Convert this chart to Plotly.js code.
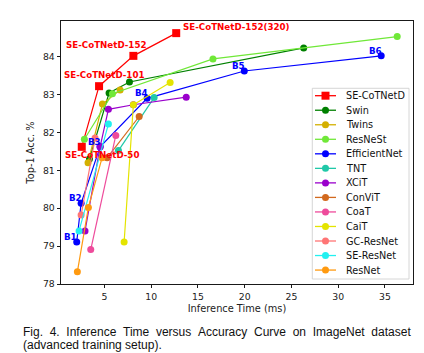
<!DOCTYPE html>
<html>
<head>
<meta charset="utf-8">
<script src="https://cdn.plot.ly/plotly-3.0.1.min.js"></script>
<style>html,body{margin:0;padding:0;background:#fff;}#chart{width:424px;height:353px;}</style>
</head>
<body>
<div id="chart"></div>
<script>
// ---- data (inference time in ms, top-1 accuracy in %) ----
const seriesNames = ['SE-CoTNetD','Swin','Twins','ResNeSt','EfficientNet','TNT','XCiT','ConViT','CoaT','CaiT','GC-ResNet','SE-ResNet','ResNet'];

const seCoTNetD_t = [2.58, 4.43, 8.10, 12.68];
const seCoTNetD_acc = [81.62, 83.22, 84.02, 84.62];
const seCoTNetD_labels = ['SE-CoTNetD-50','SE-CoTNetD-101','SE-CoTNetD-152','SE-CoTNetD-152(320)'];

const swin_t = [3.40, 5.50, 7.68, 26.31];
const swin_acc = [81.30, 83.04, 83.33, 84.23];

const twins_t = [3.25, 4.79, 6.68];
const twins_acc = [81.20, 82.75, 83.12];

const resnest_t = [2.86, 5.86, 16.61, 36.31];
const resnest_acc = [81.82, 83.02, 83.94, 84.53];

const effnet_t = [2.04, 2.51, 4.54, 9.57, 19.96, 34.60];
const effnet_acc = [79.11, 80.13, 81.62, 82.90, 83.62, 84.02];
const effnet_labels = ['B1','B2','B3','B4','B5','B6'];

const tnt_t = [6.50, 10.32];
const tnt_acc = [81.52, 82.92];

const xcit_t = [2.93, 4.54, 5.43, 8.10, 13.75];
const xcit_acc = [79.40, 81.62, 82.61, 82.73, 82.93];

const convit_t = [5.29, 8.72];
const convit_acc = [81.33, 82.42];

const coat_t = [3.54, 6.22];
const coat_acc = [78.91, 81.92];

const cait_t = [7.11, 8.10, 12.03];
const cait_acc = [79.11, 82.73, 83.32];

const gcresnet_t = [2.51, 4.00];
const gcresnet_acc = [79.82, 81.85];

const seresnet_t = [2.29, 5.43];
const seresnet_acc = [79.40, 82.22];

const resnet_t = [2.11, 3.29, 4.75];
const resnet_acc = [78.32, 80.02, 81.33];

const xTicks = [5, 10, 15, 20, 25, 30, 35];
const yTicks = [78, 79, 80, 81, 82, 83, 84];

// ---- styles ----
const colors = ['#ff0000','#008000','#d4b000','#70e838','#0000ff','#20c8a8','#9a00cc','#d2691e','#ee4b9b','#e4e400','#ff7575','#22f0f0','#ff9a10'];
const symbols = ['square','circle','circle','circle','circle','circle','circle','circle','circle','circle','circle','circle','circle'];

const xs = [seCoTNetD_t, swin_t, twins_t, resnest_t, effnet_t, tnt_t, xcit_t, convit_t, coat_t, cait_t, gcresnet_t, seresnet_t, resnet_t];
const ys = [seCoTNetD_acc, swin_acc, twins_acc, resnest_acc, effnet_acc, tnt_acc, xcit_acc, convit_acc, coat_acc, cait_acc, gcresnet_acc, seresnet_acc, resnet_acc];

const traces = seriesNames.map((n, i) => ({
  type: 'scatter', mode: 'lines+markers', name: n,
  x: xs[i], y: ys[i],
  line: {color: colors[i], width: 1.2},
  marker: {color: colors[i], size: i === 0 ? 8 : 7, symbol: symbols[i], line: {width: 0}},
  showlegend: false, hoverinfo: 'skip'
}));

// ---- geometry helpers (plot area: 61..413 x 21..284 px) ----
const L = 61, R = 413, T = 21, B = 284;
const px2paperX = p => (p - L) / (R - L);
const px2paperY = p => (B - p) / (B - T);

const annotations = [];
const shapes = [];

// red labels
const redShifts = [[-18, -8], [-36, 11], [-68, 11], [6, 6]];
seCoTNetD_labels.forEach((t, i) => {
  annotations.push({x: seCoTNetD_t[i], y: seCoTNetD_acc[i], xref: 'x', yref: 'y', text: t, showarrow: false,
    xanchor: 'left', yanchor: 'middle', xshift: redShifts[i][0] - 1, yshift: redShifts[i][1],
    font: {family: 'DejaVu Sans', size: 8.7, color: '#ff0000', weight: 'bold'}});
});
// blue labels
effnet_labels.forEach((t, i) => {
  annotations.push({x: effnet_t[i], y: effnet_acc[i], xref: 'x', yref: 'y', text: t, showarrow: false,
    xanchor: 'center', yanchor: 'middle', xshift: -6, yshift: 5,
    font: {family: 'DejaVu Sans', size: 8.7, color: '#0000ff', weight: 'bold'}});
});

// custom legend
shapes.push({type: 'rect', xref: 'paper', yref: 'paper', x0: px2paperX(312.3), x1: px2paperX(409), y0: px2paperY(279), y1: px2paperY(88.3),
  line: {color: '#cccccc', width: 0.8}, fillcolor: 'rgba(255,255,255,0.85)', layer: 'above'});
seriesNames.forEach((n, i) => {
  const yp = px2paperY(95.7 + 14.53 * i);
  shapes.push({type: 'line', xref: 'paper', yref: 'paper', x0: px2paperX(315), x1: px2paperX(336), y0: yp, y1: yp,
    line: {color: colors[i], width: 1.3}, layer: 'above'});
  const hs = i === 0 ? 4 : 3.5;
  shapes.push({type: i === 0 ? 'rect' : 'circle', xref: 'paper', yref: 'paper', xsizemode: 'pixel', ysizemode: 'pixel',
    xanchor: px2paperX(325.5), yanchor: yp, x0: -hs, x1: hs, y0: -hs, y1: hs,
    fillcolor: colors[i], line: {width: 0}, layer: 'above'});
  annotations.push({xref: 'paper', yref: 'paper', x: px2paperX(344), y: yp, text: n, showarrow: false,
    xanchor: 'left', yanchor: 'middle', font: {family: 'DejaVu Sans', size: 9.7, color: '#111'}});
});

// caption
const nb = '\u00a0';
const cap1 = ['Fig.','4.','Inference','Time','versus','Accuracy','Curve','on','ImageNet','dataset'].join(' ' + nb);
annotations.push({xref: 'paper', yref: 'paper', x: px2paperX(21), y: px2paperY(332), text: cap1, showarrow: false,
  xanchor: 'left', yanchor: 'middle', font: {family: 'Liberation Sans', size: 12, color: '#111'}});
annotations.push({xref: 'paper', yref: 'paper', x: px2paperX(21), y: px2paperY(345), text: '(advanced training setup).', showarrow: false,
  xanchor: 'left', yanchor: 'middle', font: {family: 'Liberation Sans', size: 12, color: '#111'}});

const axisCommon = {showgrid: false, zeroline: false, showline: true, linecolor: '#000', linewidth: 0.9, mirror: true,
  ticks: 'outside', ticklen: 3.5, tickwidth: 0.9, tickcolor: '#000',
  tickfont: {family: 'DejaVu Sans', size: 9.3, color: '#222'}};

const layout = {
  width: 424, height: 353,
  margin: {l: L, r: 424 - R, t: T, b: 353 - B, pad: 0},
  paper_bgcolor: '#fff', plot_bgcolor: '#fff',
  showlegend: false,
  xaxis: Object.assign({}, axisCommon, {range: [0.36, 38.0], tickvals: xTicks,
    title: {text: 'Inference Time (ms)', font: {family: 'DejaVu Sans', size: 9.8, color: '#222'}, standoff: 4}}),
  yaxis: Object.assign({}, axisCommon, {range: [78, 84.94], tickvals: yTicks,
    title: {text: 'Top-1 Acc. %', font: {family: 'DejaVu Sans', size: 9.8, color: '#222'}, standoff: 6}}),
  annotations: annotations,
  shapes: shapes
};

Plotly.newPlot('chart', traces, layout, {staticPlot: true, displayModeBar: false});
</script>
</body>
</html>
